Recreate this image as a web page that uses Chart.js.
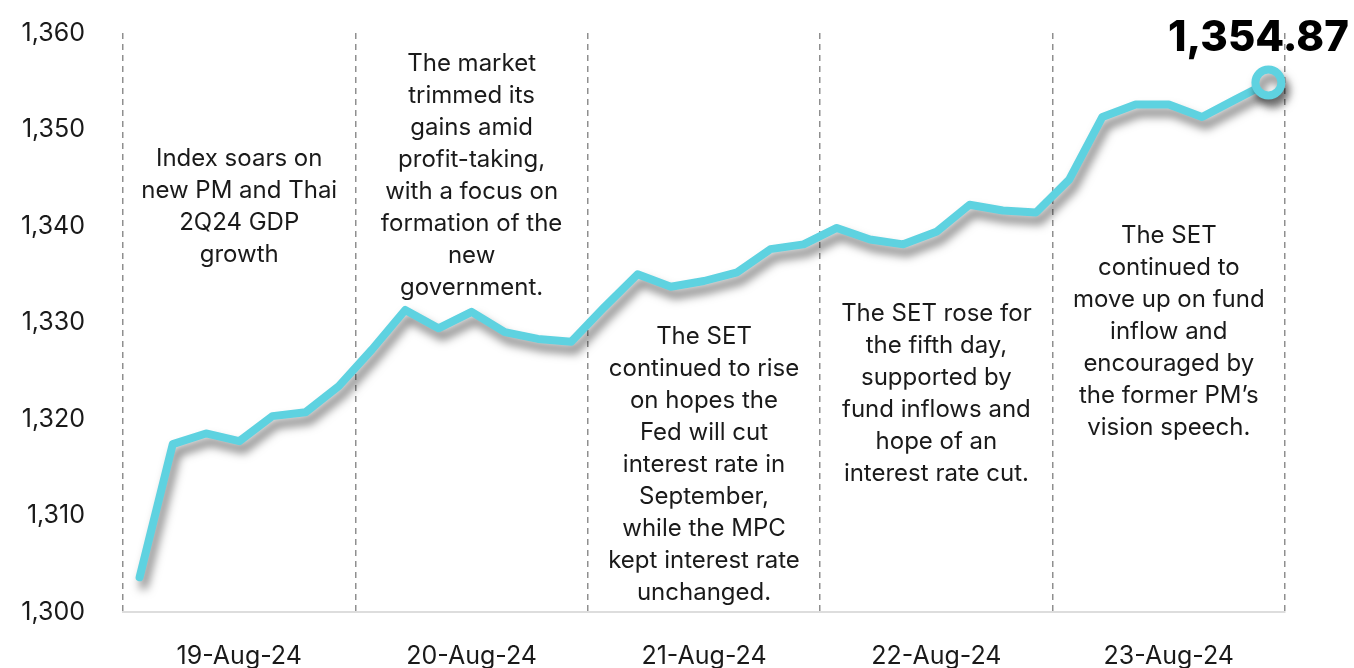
<!DOCTYPE html>
<html>
<head>
<meta charset="utf-8">
<script src="https://cdn.jsdelivr.net/npm/chart.js@4"></script>
<style>
  html, body { margin: 0; padding: 0; background: #ffffff; }
  #wrap { width: 1354px; height: 668px; }
</style>
</head>
<body>
<div id="wrap"><canvas id="chart" width="1354" height="668"></canvas></div>
<script>
// Dias de negociação (7 leituras por dia)
const days = ['19-Aug-24', '20-Aug-24', '21-Aug-24', '22-Aug-24', '23-Aug-24'];
const pointsPerDay = 7;

// Índice SET
const setIndex = [
  1303.6, 1317.4, 1318.5, 1317.7, 1320.3, 1320.7, 1323.4,
  1327.2, 1331.3, 1329.4, 1331.1, 1329.0, 1328.3, 1328.0,
  1331.6, 1335.0, 1333.7, 1334.3, 1335.2, 1337.6, 1338.1,
  1339.8, 1338.6, 1338.1, 1339.4, 1342.2, 1341.6, 1341.4,
  1344.8, 1351.3, 1352.6, 1352.6, 1351.3, 1353.1, 1354.87
];

// Escala do eixo Y
const yMin = 1300;
const yMax = 1360;
const yStep = 10;

// Comentários de cada dia
const dayNotes = [
  ['Index soars on', 'new PM and Thai', '2Q24 GDP', 'growth'],
  ['The market', 'trimmed its', 'gains amid', 'profit-taking,', 'with a focus on', 'formation of the', 'new', 'government.'],
  ['The SET', 'continued to rise', 'on hopes the', 'Fed will cut', 'interest rate in', 'September,', 'while the MPC', 'kept interest rate', 'unchanged.'],
  ['The SET rose for', 'the fifth day,', 'supported by', 'fund inflows and', 'hope of an', 'interest rate cut.'],
  ['The SET', 'continued to', 'move up on fund', 'inflow and', 'encouraged by', 'the former PM\u2019s', 'vision speech.']
];

const labels = days.flatMap(d => Array(pointsPerDay).fill(d));
const lastIndex = setIndex.length - 1;

const FONT = 'Inter, "Open Sans", sans-serif';
const lineColor = '#5ed2e0';

// Posição (no eixo Y, em pontos do índice) da primeira linha de cada nota
const noteTop = [1347.0, 1356.8, 1328.5, 1330.9, 1339.0];
const noteLineHeight = 32;

// Sombra da linha
const shadowPlugin = {
  id: 'lineShadow',
  beforeDatasetDraw(chart) {
    const ctx = chart.ctx;
    ctx.save();
    ctx.shadowColor = 'rgba(0,0,0,0.5)';
    ctx.shadowBlur = 10;
    ctx.shadowOffsetX = 4;
    ctx.shadowOffsetY = 8;
  },
  afterDatasetDraw(chart) {
    chart.ctx.restore();
  }
};

// Textos das notas e valor final
const notesPlugin = {
  id: 'notes',
  afterDatasetsDraw(chart) {
    const ctx = chart.ctx;
    const x = chart.scales.x;
    const y = chart.scales.y;
    ctx.save();
    ctx.fillStyle = '#1a1a1a';
    ctx.font = '24px ' + FONT;
    ctx.textAlign = 'center';
    ctx.textBaseline = 'middle';
    dayNotes.forEach((lines, i) => {
      const cx = x.getPixelForValue(i * pointsPerDay + 3);
      const top = y.getPixelForValue(noteTop[i]);
      lines.forEach((t, j) => ctx.fillText(t, cx, top + j * noteLineHeight));
    });

    // valor final em destaque
    const pt = chart.getDatasetMeta(0).data[lastIndex];
    ctx.fillStyle = '#000000';
    ctx.font = '800 42px ' + FONT;
    ctx.textBaseline = 'alphabetic';
    ctx.fillText(setIndex[lastIndex].toLocaleString('en-US', { minimumFractionDigits: 2 }), pt.x - 10, pt.y - 32);
    ctx.restore();
  }
};

new Chart(document.getElementById('chart'), {
  type: 'line',
  data: {
    labels: labels,
    datasets: [{
      data: setIndex,
      borderColor: lineColor,
      borderWidth: 8,
      borderJoinStyle: 'round',
      borderCapStyle: 'round',
      tension: 0,
      pointRadius: ctx => ctx.dataIndex === lastIndex ? 13 : 0,
      pointBorderWidth: 8,
      pointBorderColor: lineColor,
      pointBackgroundColor: '#ffffff',
      clip: false
    }]
  },
  options: {
    responsive: false,
    animation: false,
    layout: { autoPadding: false, padding: { top: 33, right: 69, left: 18, bottom: 0 } },
    plugins: { legend: { display: false }, tooltip: { enabled: false } },
    scales: {
      x: {
        offset: true,
        grid: {
          offset: true,
          drawTicks: false,
          lineWidth: 1.5,
          color: ctx => (ctx.index === undefined || ctx.index % pointsPerDay === 0) ? '#8f8f8f' : 'rgba(0,0,0,0)'
        },
        border: { display: true, color: '#dddddd', width: 2, dash: [6, 5] },
        ticks: {
          autoSkip: false,
          maxRotation: 0,
          padding: 29,
          color: '#1a1a1a',
          font: { family: FONT, size: 25 },
          callback: function (value, index) {
            return index % pointsPerDay === 3 ? this.getLabelForValue(value) : '';
          }
        },
        afterFit: s => { s.height = 56; }
      },
      y: {
        min: yMin,
        max: yMax,
        // marcas invisíveis só para afastar os rótulos do eixo
        grid: { display: false, drawTicks: true, tickLength: 38 },
        border: { display: false },
        ticks: {
          stepSize: yStep,
          padding: 0,
          color: '#1a1a1a',
          font: { family: FONT, size: 25 },
          callback: v => v.toLocaleString('en-US')
        },
        afterFit: s => { s.width = 105; }
      }
    }
  },
  plugins: [shadowPlugin, notesPlugin]
});
</script>
</body>
</html>
